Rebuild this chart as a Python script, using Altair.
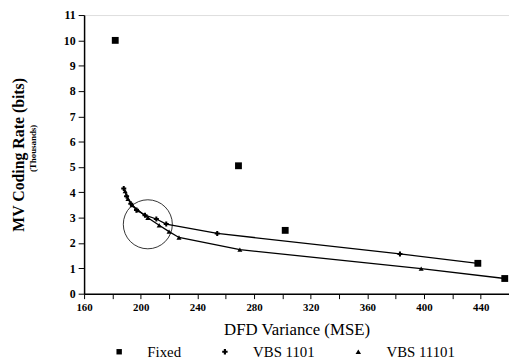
import altair as alt
import pandas as pd

series_names = ["Fixed", "VBS 1101", "VBS 11101"]

fixed_x = [182, 269, 302, 438, 457]
fixed_y = [10.0, 5.05, 2.5, 1.2, 0.6]

vbs1101_x = [188, 190, 193, 197, 203, 211, 218, 254, 383, 438]
vbs1101_y = [4.15, 3.85, 3.55, 3.3, 3.1, 2.95, 2.75, 2.38, 1.57, 1.2]

vbs11101_x = [189, 191, 194, 198, 205, 213, 220, 227, 270, 398, 457]
vbs11101_y = [4.05, 3.75, 3.5, 3.3, 3.0, 2.7, 2.45, 2.22, 1.74, 0.99, 0.6]

circle_x = [205]
circle_y = [2.74]

x_ticks = list(range(160, 461, 20))
y_ticks = list(range(0, 12))

rows = []
for name, xs, ys in [(series_names[0], fixed_x, fixed_y),
                     (series_names[1], vbs1101_x, vbs1101_y),
                     (series_names[2], vbs11101_x, vbs11101_y)]:
    for xv, yv in zip(xs, ys):
        rows.append({"series": name, "x": xv, "y": yv})
df = pd.DataFrame(rows)
df_lines = df[df["series"] != "Fixed"]
df_fixed = df[df["series"] == "Fixed"]
df_circle = pd.DataFrame({"x": circle_x, "y": circle_y})
df_sub = pd.DataFrame({"t": ["(Thousands)"]})

FONT = "Liberation Serif"

xscale = alt.Scale(domain=[160, 460], nice=False, zero=False)
yscale = alt.Scale(domain=[0, 11], nice=False, zero=True)

xaxis = alt.Axis(
    values=x_ticks,
    labelExpr="datum.value % 40 == 0 ? datum.label : ''",
    title="DFD Variance (MSE)",
    titleFont=FONT, titleFontSize=17, titleFontWeight="normal", titleColor="black",
    titlePadding=9,
    labelFont=FONT, labelFontSize=11, labelFontWeight="bold", labelColor="black",
    labelPadding=3, tickSize=5, tickColor="black", domainColor="black",
    domainWidth=1.5, grid=False, labelFlush=False,
)
yaxis = alt.Axis(
    values=y_ticks,
    title="MV Coding Rate (bits)",
    titleFont=FONT, titleFontSize=16, titleFontWeight="bold", titleColor="black",
    titlePadding=37,
    labelFont=FONT, labelFontSize=12, labelFontWeight="bold", labelColor="black",
    labelPadding=3, tickSize=6, tickColor="black", domainColor="black",
    domainWidth=1.5, grid=False,
)

X = alt.X("x:Q", scale=xscale, axis=xaxis)
Y = alt.Y("y:Q", scale=yscale, axis=yaxis)

lines = alt.Chart(df_lines).mark_line(color="black", strokeWidth=1.3).encode(
    x=X, y=Y, detail="series:N", order="x:Q"
)

points = alt.Chart(df).mark_point(filled=True, color="black", opacity=1, size=26).encode(
    x=X, y=Y,
    shape=alt.Shape(
        "series:N",
        scale=alt.Scale(domain=series_names, range=["square", "cross", "triangle-up"]),
        legend=alt.Legend(
            title=None, orient="none", direction="horizontal",
            legendX=28, legendY=333, padding=0,
            labelFont=FONT, labelFontSize=15, labelColor="black",
            labelOffset=21, columnPadding=36, symbolSize=30,
            symbolFillColor="black", symbolStrokeColor="black",
        ),
    ),
)

fixed_big = alt.Chart(df_fixed).mark_point(
    filled=True, color="black", opacity=1, size=48, shape="square"
).encode(x=X, y=Y)

circle = alt.Chart(df_circle).mark_point(
    shape="circle", size=2463, filled=False, stroke="black", strokeWidth=0.8, opacity=1
).encode(x=X, y=Y)

subtitle = alt.Chart(df_sub).mark_text(
    angle=270, font=FONT, fontSize=9, fontWeight="bold", color="black",
    align="center", baseline="middle",
).encode(x=alt.value(-52), y=alt.value(135), text="t:N")

chart = alt.layer(lines, circle, points, fixed_big, subtitle).properties(
    width=430, height=282,
    autosize=alt.AutoSizeParams(type="none"),
    padding={"left": 77, "top": 5, "right": 0, "bottom": 68},
).configure_view(stroke="#888", strokeWidth=1).configure(
    background="white", font=FONT
).configure_axis(labelFont=FONT, titleFont=FONT)

chart.save("out.html", embed_options={"renderer": "svg", "actions": False})
